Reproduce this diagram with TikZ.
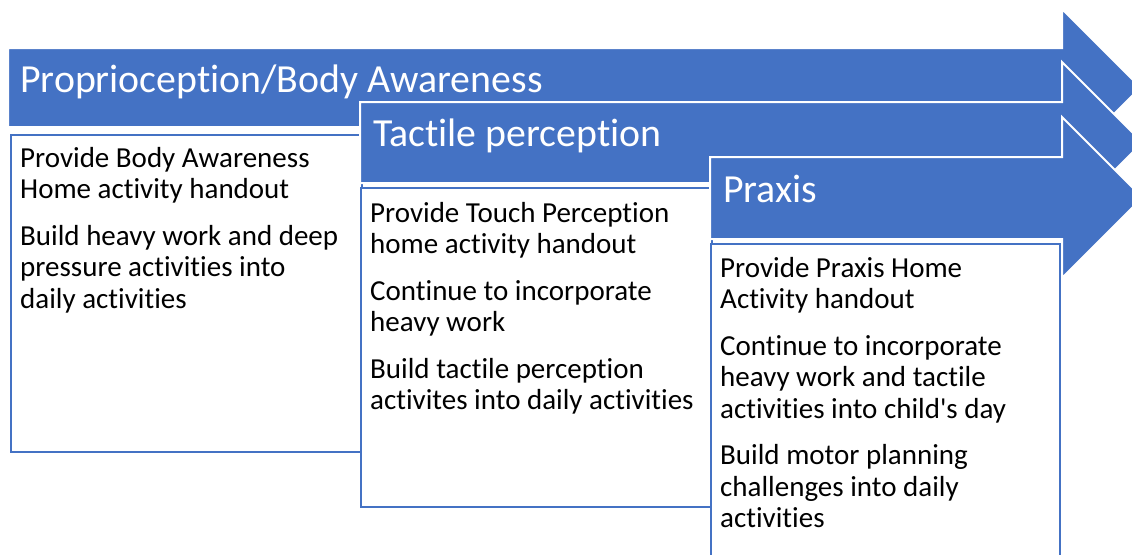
\documentclass[tikz,border=0pt]{standalone}
\usepackage{fontspec}
\setmainfont{Carlito}[Ligatures=NoCommon]
\definecolor{ppblue}{HTML}{4472C4}
\tikzstyle{band}=[fill=ppblue,draw=white,line width=2pt,line join=miter]
\tikzstyle{card}=[fill=white,draw=ppblue,line width=1.5pt]
\tikzstyle{head}=[anchor=base west,text=white,inner sep=0pt,font=\fontsize{39.8}{47}\selectfont]
\tikzstyle{items}=[anchor=base west,inner sep=0pt,font=\fontsize{29}{31.5}\selectfont]
\newcommand{\itemtext}[1]{\parbox[t]{340pt}{\raggedright #1}}

\begin{document}
\begin{tikzpicture}[x=1pt,y=-1pt]
\useasboundingbox (0,0) rectangle (1132,554);
% stage 1
\draw[band] (8,48) -- (1062,48) -- (1062,9) -- (1140.5,87.5) -- (1062,166) -- (1062,127) -- (8,127) -- cycle;
\node[head] (h1) at (20,92) {Proprioception/Body Awareness};
\draw[card] (11,135) rectangle (362,452);
\node[items] (t1) at (20,167) {\itemtext{Provide Body Awareness\\Home activity handout\\[15pt]Build heavy work and deep\\pressure activities into\\daily activities}};
% stage 2
\draw[band] (360,102) -- (1062,102) -- (1062,62) -- (1142.5,142.5) -- (1062,223) -- (1062,183) -- (360,183) -- cycle;
\node[head] (h2) at (373,146) {Tactile perception};
\draw[card] (361,188) rectangle (712,507);
\node[items] (t2) at (370,222) {\itemtext{Provide Touch Perception\\home activity handout\\[15pt]Continue to incorporate\\heavy work\\[15pt]Build tactile perception\\activites into daily activities}};
% stage 3
\draw[band] (710,157) -- (1062,157) -- (1062,117) -- (1142.5,197.5) -- (1062,278) -- (1062,239) -- (710,239) -- cycle;
\node[head] (h3) at (723,202) {Praxis};
\draw[card] (711,244) rectangle (1060,600);
\node[items] (t3) at (720,277) {\itemtext{Provide Praxis Home\\Activity handout\\[15pt]Continue to incorporate\\heavy work and tactile\\activities into child\textquotesingle s day\\[15pt]Build motor planning\\challenges into daily\\activities}};
\end{tikzpicture}
\end{document}
